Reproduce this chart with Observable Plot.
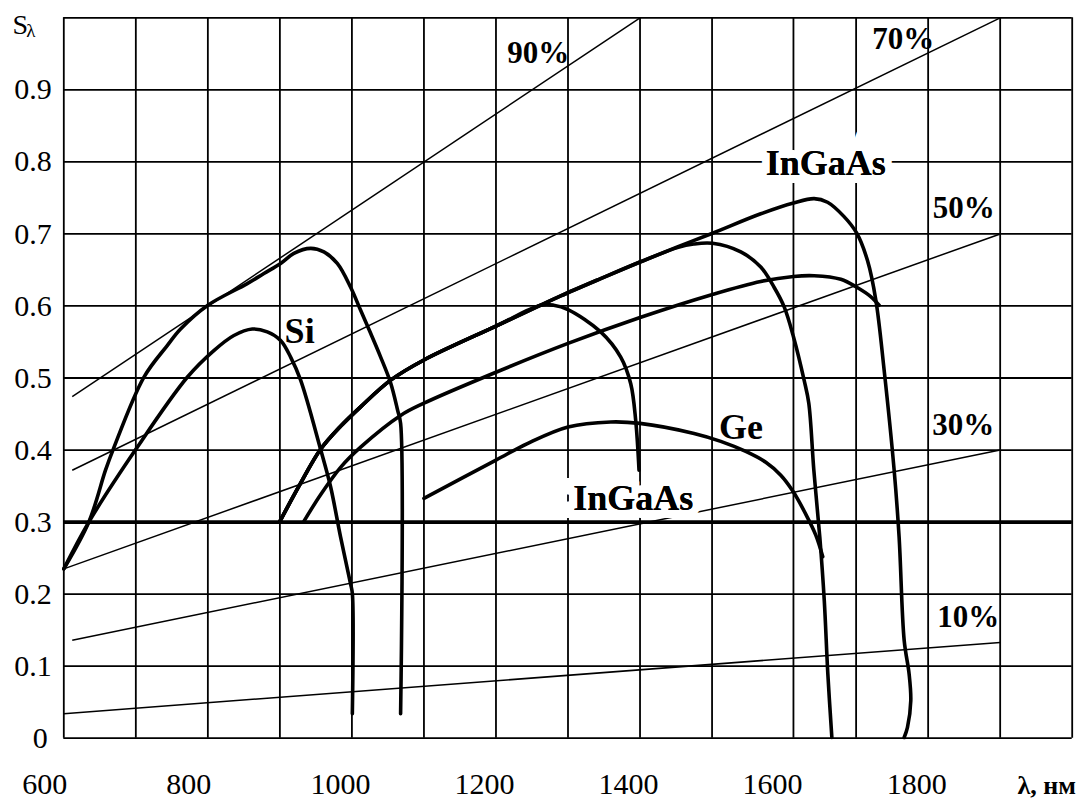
<!DOCTYPE html>
<html>
<head>
<meta charset="utf-8">
<script src="https://cdn.jsdelivr.net/npm/d3@7"></script>
<script src="https://cdn.jsdelivr.net/npm/@observablehq/plot@0.6"></script>
<style>
  body { margin: 0; background: #fff; }
  #chart svg { display: block; }
</style>
</head>
<body>
<div id="chart"></div>
<script>
// ---- axes / grid ----
const xTicks = [600, 800, 1000, 1200, 1400, 1600, 1800];
const yTicks = [0.1, 0.2, 0.3, 0.4, 0.5, 0.6, 0.7, 0.8, 0.9];
const yZeroTick = [0];
const gridWavelengths = [600, 700, 800, 900, 1000, 1100, 1200, 1300, 1400, 1500, 1613, 1700, 1800, 1900, 2000];
const gridLevels = [0, 0.1, 0.2, 0.3, 0.4, 0.5, 0.6, 0.7, 0.8, 0.9, 1.0];
const thickLevels = [0.3];

// ---- quantum-efficiency reference lines ----
const efficiencyNames = ["90%", "70%", "50%", "30%", "10%"];
const efficiencyX1 = [611.7, 611.7, 600, 611.7, 600];
const efficiencyY1 = [0.474, 0.372, 0.235, 0.136, 0.034];
const efficiencyX2 = [1400, 1900, 1900, 1900, 1900];
const efficiencyY2 = [1.0, 1.0, 0.700, 0.400, 0.133];
const efficiencyLabelX = [1258.6, 1765.6, 1849.6, 1848.9, 1855.8];
const efficiencyLabelY = [0.951, 0.970, 0.736, 0.434, 0.168];

// ---- spectral sensitivity curves [wavelength nm, S A/W] ----
const siUpper = [[600,0.235],[634.7,0.300],[657.9,0.372],[668.6,0.401],[711.1,0.501],[743.6,0.545],[762.1,0.568],[800.0,0.601],[854.7,0.631],[877.8,0.645],[901.0,0.659],[919.4,0.673],[942.6,0.680],[961.1,0.675],[979.7,0.659],[998.2,0.626],[1012.1,0.594],[1026.0,0.562],[1039.9,0.529],[1053.8,0.493],[1063.5,0.455],[1067.6,0.437],[1067.6,0.034]];
const siLower = [[600,0.235],[634.7,0.300],[700.0,0.401],[771.4,0.501],[808.3,0.538],[836.1,0.559],[861.7,0.568],[882.5,0.564],[901.0,0.552],[914.9,0.529],[928.8,0.497],[956.5,0.401],[970.4,0.349],[984.3,0.279],[998.2,0.214],[1000.6,0.201],[1000.6,0.034]];
const inGaAsShort = [[900,0.301],[928.8,0.354],[956.5,0.401],[984.3,0.433],[1012.1,0.460],[1053.8,0.497],[1100,0.525],[1200,0.572],[1262.1,0.601],[1280.1,0.601],[1300,0.595],[1345.4,0.564],[1373.2,0.529],[1387.1,0.492],[1394.0,0.441],[1398.6,0.372]];
const inGaAsMid = [[900,0.301],[928.8,0.354],[956.5,0.401],[984.3,0.433],[1012.1,0.460],[1053.8,0.497],[1100,0.525],[1200,0.572],[1262.1,0.601],[1289.9,0.614],[1345.4,0.638],[1400,0.661],[1451.9,0.681],[1474.6,0.686],[1500.6,0.687],[1539.9,0.675],[1567.6,0.654],[1586.1,0.626],[1600,0.599],[1613.1,0.557],[1627.8,0.497],[1634.3,0.465],[1641.3,0.372],[1649.6,0.279],[1655.8,0.191],[1660.7,0.090],[1666.3,0.001]];
const inGaAsLong = [[900,0.301],[928.8,0.354],[956.5,0.401],[984.3,0.433],[1012.1,0.460],[1053.8,0.497],[1100,0.525],[1200,0.572],[1262.1,0.601],[1289.9,0.614],[1345.4,0.638],[1400,0.661],[1451.9,0.682],[1500.6,0.701],[1567.6,0.728],[1613.1,0.743],[1641.7,0.749],[1660.3,0.744],[1683.3,0.724],[1700.9,0.701],[1715.8,0.663],[1727.4,0.608],[1738.9,0.511],[1752.8,0.372],[1759.7,0.279],[1766.7,0.136],[1773.6,0.089],[1775.9,0.052],[1771.3,0.015],[1766.7,0.001]];
const inGaAsLow = [[933.3,0.301],[956.5,0.338],[984.3,0.376],[1012.1,0.404],[1067.6,0.448],[1100,0.465],[1200,0.508],[1300,0.548],[1400,0.584],[1500.6,0.616],[1567.6,0.634],[1613.1,0.641],[1641.7,0.642],[1678.8,0.637],[1700.9,0.626],[1720.3,0.613],[1731.9,0.601]];
const ge = [[1100,0.333],[1200,0.386],[1243.6,0.409],[1300,0.432],[1359.3,0.439],[1400,0.437],[1475,0.423],[1512.1,0.412],[1546.8,0.398],[1574.6,0.383],[1595.4,0.365],[1612.1,0.343],[1630.1,0.311],[1644.0,0.282],[1653.7,0.252]];

// ---- material labels ----
const materialNames = ["Si", "Ge", "InGaAs", "InGaAs"];
const materialX = [927.4, 1540, 1657.9, 1390.5];
const materialY = [0.565, 0.432, 0.798, 0.333];

// ---- build tables ----
const curves = [
  ["siUpper", siUpper], ["siLower", siLower], ["inGaAsShort", inGaAsShort],
  ["inGaAsMid", inGaAsMid], ["inGaAsLong", inGaAsLong], ["inGaAsLow", inGaAsLow], ["ge", ge]
].flatMap(([name, pts]) => pts.map(([x, y]) => ({name, x, y})));

const effLines = efficiencyNames.map((n, i) => ({
  name: n, x1: efficiencyX1[i], y1: efficiencyY1[i], x2: efficiencyX2[i], y2: efficiencyY2[i]
}));
const effLabels = efficiencyNames.map((n, i) => ({text: n, x: efficiencyLabelX[i], y: efficiencyLabelY[i]}));
const matLabels = materialNames.map((n, i) => ({text: n, x: materialX[i], y: materialY[i]}));

const FONT = "Liberation Serif, Times New Roman, serif";

const chart = Plot.plot({
  width: 1082,
  height: 801,
  marginTop: 17.3,
  marginRight: 10.3,
  marginBottom: 63.3,
  marginLeft: 63.3,
  style: {fontFamily: FONT, background: "#fff", color: "#000"},
  x: {domain: [600, 2000]},
  y: {domain: [0, 1]},
  marks: [
    Plot.ruleX(gridWavelengths, {x: d => d, stroke: "#000", strokeWidth: 1.8}),
    Plot.ruleY(gridLevels, {y: d => d, stroke: "#000", strokeWidth: 1.8}),
    Plot.link(effLines, {x1: "x1", y1: "y1", x2: "x2", y2: "y2", stroke: "#000", strokeWidth: 1.5}),
    Plot.text(matLabels.filter(d => d.text === "InGaAs"), {
      x: "x", y: "y", text: "text", fontSize: 36, fontWeight: "bold", fontFamily: FONT,
      fill: "#000", stroke: "#fff", strokeWidth: 16, strokeLinejoin: "miter"
    }),
    Plot.ruleY(thickLevels, {y: d => d, stroke: "#000", strokeWidth: 3.6}),
    Plot.line(curves, {x: "x", y: "y", z: "name", stroke: "#000", strokeWidth: 3.6, curve: "catmull-rom", strokeLinejoin: "round"}),
    Plot.text(effLabels, {x: "x", y: "y", text: "text", fontSize: 31, fontWeight: "bold", fontFamily: FONT, fill: "#000"}),
    Plot.text(matLabels, {x: "x", y: "y", text: "text", fontSize: 36, fontWeight: "bold", fontFamily: FONT, fill: "#000"}),
    Plot.axisX({
      ticks: xTicks, tickSize: 0, tickPadding: 34, dx: -41.5, textAnchor: "start",
      tickFormat: d => String(d), fontSize: 30, fontFamily: FONT, fontVariant: "normal", label: null
    }),
    Plot.axisY({
      ticks: yTicks, tickSize: 0, tickPadding: 12,
      tickFormat: d => d.toFixed(1), fontSize: 30, fontFamily: FONT, fontVariant: "normal", label: null
    }),
    Plot.axisY({
      ticks: yZeroTick, tickSize: 0, tickPadding: 16,
      tickFormat: d => String(d), fontSize: 30, fontFamily: FONT, fontVariant: "normal", label: null
    }),
    Plot.text(["S"], {frameAnchor: "top-left", text: d => d, dx: -51.3, dy: 15.7, lineAnchor: "bottom", textAnchor: "start", fontSize: 28, fontFamily: FONT, fill: "#000"}),
    Plot.text(["λ"], {frameAnchor: "top-left", text: d => d, dx: -37.5, dy: 19.5, lineAnchor: "bottom", textAnchor: "start", fontSize: 19, fontFamily: FONT, fill: "#000"}),
    Plot.text(["λ, нм"], {frameAnchor: "bottom-right", text: d => d, dx: -54.7, dy: 55.3, lineAnchor: "bottom", textAnchor: "start", fontSize: 26, fontWeight: "bold", fontFamily: FONT, fill: "#000"})
  ]
});

document.getElementById("chart").appendChild(chart);
</script>
</body>
</html>
